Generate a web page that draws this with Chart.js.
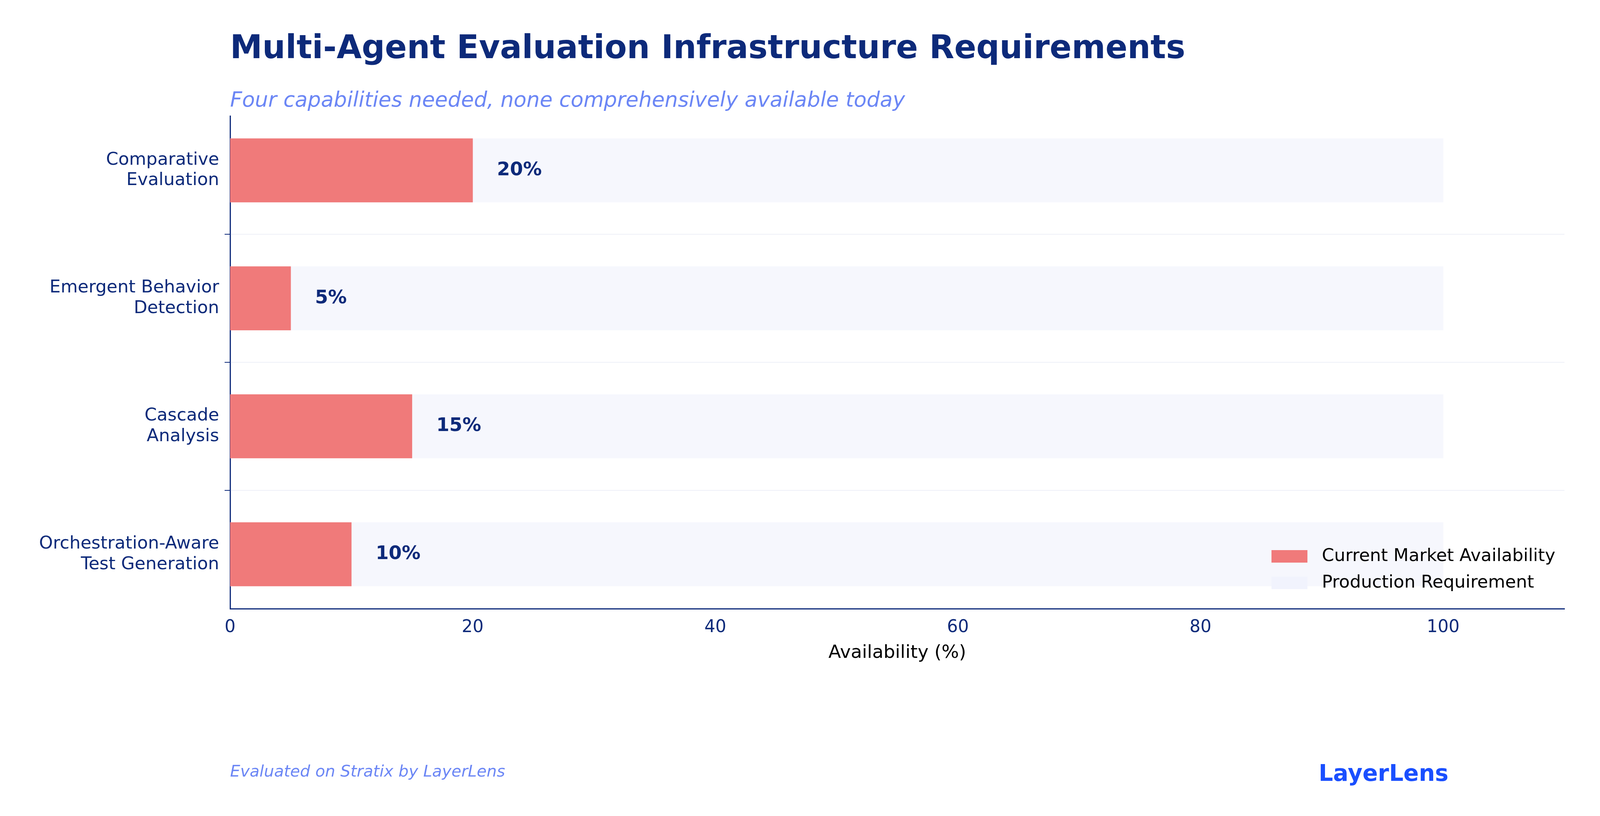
<!DOCTYPE html>
<html>
<head>
<meta charset="utf-8">
<script src="https://cdn.jsdelivr.net/npm/chart.js@4"></script>
<style>
  html, body { margin: 0; padding: 0; background: #fff; }
  canvas { display: block; }
</style>
</head>
<body>
<canvas id="chart" width="4123" height="2090"></canvas>
<script>
const categories = [
  ["Comparative", "Evaluation"],
  ["Emergent Behavior", "Detection"],
  ["Cascade", "Analysis"],
  ["Orchestration-Aware", "Test Generation"],
];
const currentAvailability = [20, 5, 15, 10];
const productionRequirement = [100, 100, 100, 100];
const xTicks = [0, 20, 40, 60, 80, 100];

const NAVY = "#0d2a7a";
const FONT = "'DejaVu Sans', sans-serif";

const toPoints = (arr) => arr.map((v, i) => ({ x: v, y: i }));

const decorations = {
  id: "decorations",
  afterDraw(chart) {
    const ctx = chart.ctx;
    const area = chart.chartArea;
    const x = chart.scales.x;
    const y = chart.scales.y;
    ctx.save();
    ctx.textBaseline = "middle";
    ctx.textAlign = "left";
    ctx.fillStyle = NAVY;
    ctx.font = "bold 83px " + FONT;
    ctx.fillText("Multi-Agent Evaluation Infrastructure Requirements", 589, 127);
    ctx.fillStyle = "#6b86f5";
    ctx.font = "italic 53.5px " + FONT;
    ctx.fillText("Four capabilities needed, none comprehensively available today", 589, 259);

    ctx.fillStyle = NAVY;
    ctx.font = "bold 48px " + FONT;
    currentAvailability.forEach((v, i) => {
      ctx.fillText(v + "%", x.getPixelForValue(v + 2), y.getPixelForValue(i));
    });

    ctx.textAlign = "center";
    ctx.fillStyle = "#000";
    ctx.font = "47px " + FONT;
    ctx.fillText("Availability (%)", (area.left + area.right) / 2, 1673);

    ctx.textAlign = "left";
    ctx.font = "45px " + FONT;
    const items = [["#f07a7a", "Current Market Availability", 1425], ["#f1f3fd", "Production Requirement", 1493]];
    items.forEach(([c, t, yy]) => {
      ctx.fillStyle = c;
      ctx.fillRect(3255, yy - 16, 92, 32);
      ctx.fillStyle = "#000";
      ctx.fillText(t, 3384, yy);
    });

    ctx.fillStyle = "#6b86f5";
    ctx.font = "italic 41px " + FONT;
    ctx.fillText("Evaluated on Stratix by LayerLens", 589, 1978);
    ctx.textAlign = "right";
    ctx.fillStyle = "#1a4fff";
    ctx.font = "bold 58px " + FONT;
    ctx.fillText("LayerLens", 3708, 1985);
    ctx.restore();
  },
};

new Chart(document.getElementById("chart"), {
  type: "bar",
  data: {
    datasets: [
      {
        label: "Current Market Availability",
        data: toPoints(currentAvailability),
        backgroundColor: "#f07a7a",
        barThickness: 163,
        order: 0,
      },
      {
        label: "Production Requirement",
        data: toPoints(productionRequirement),
        backgroundColor: "#f6f7fd",
        barThickness: 163,
        order: 1,
      },
    ],
  },
  options: {
    indexAxis: "y",
    responsive: false,
    devicePixelRatio: 1,
    animation: false,
    layout: { padding: { top: 297, right: 118, left: 0, bottom: 0 } },
    plugins: { legend: { display: false }, tooltip: { enabled: false } },
    scales: {
      x: {
        type: "linear",
        min: 0,
        max: 110,
        afterFit: (s) => { s.height = 2090 - 1559; },
        afterBuildTicks: (s) => { s.ticks = xTicks.map((v) => ({ value: v })); },
        grid: { display: false, drawTicks: true, tickLength: 14, tickColor: NAVY },
        border: { color: NAVY, width: 3 },
        ticks: { color: NAVY, font: { size: 44, family: FONT }, padding: 8 },
      },
      y: {
        type: "linear",
        reverse: true,
        stacked: true,
        offset: false,
        min: -0.425,
        max: 3.425,
        afterFit: (s) => { s.width = 589; },
        afterBuildTicks: (s) => { s.ticks = categories.map((c, i) => ({ value: i })); },
        grid: { color: "#eef0f8", lineWidth: 2, tickLength: 14, tickColor: NAVY },
        border: { color: NAVY, width: 3 },
        ticks: {
          color: NAVY,
          font: { size: 45, family: FONT, lineHeight: 1.17 },
          padding: 14,
          callback: (v) => categories[v],
        },
      },
    },
  },
  plugins: [decorations],
});
</script>
</body>
</html>
